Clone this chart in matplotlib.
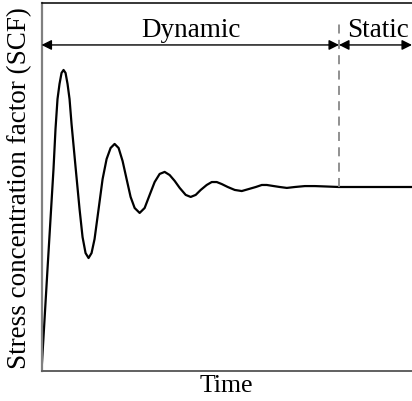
import matplotlib
matplotlib.use('Agg')
import matplotlib.pyplot as plt

# SCF response: time (arb. units) vs stress concentration factor (normalised to static value)
time = [0.000, 0.081, 0.162, 0.243, 0.324, 0.378, 0.432, 0.486, 0.541, 0.595, 0.649,
        0.703, 0.757, 0.811, 0.919, 1.027, 1.108, 1.189, 1.270, 1.351, 1.432, 1.541,
        1.649, 1.757, 1.865, 1.973, 2.081, 2.189, 2.297, 2.405, 2.514, 2.649, 2.784,
        2.919, 3.054, 3.189, 3.324, 3.459, 3.595, 3.730, 3.892, 4.027, 4.162, 4.297,
        4.459, 4.595, 4.730, 4.865, 5.027, 5.216, 5.405, 5.595, 5.784, 5.946, 6.081,
        6.270, 6.432, 6.622, 6.838, 7.108, 7.378, 7.649, 8.027, 10.000]
scf = [0.000, 0.277, 0.554, 0.826, 1.098, 1.315, 1.478, 1.560, 1.620, 1.636, 1.620,
       1.560, 1.478, 1.342, 1.109, 0.880, 0.728, 0.641, 0.614, 0.641, 0.717, 0.880,
       1.043, 1.152, 1.212, 1.234, 1.212, 1.141, 1.043, 0.946, 0.886, 0.859, 0.886,
       0.957, 1.027, 1.071, 1.082, 1.065, 1.033, 0.995, 0.957, 0.946, 0.957, 0.984,
       1.011, 1.027, 1.027, 1.016, 1.000, 0.984, 0.978, 0.989, 1.000, 1.011, 1.011,
       1.005, 1.000, 0.995, 1.000, 1.005, 1.005, 1.003, 1.000, 1.000]

t_static = 8.03          # start of static phase
t_end = 10.0
arrow_y = 1.772
phase_labels = ['Dynamic', 'Static']
phase_label_x = [4.03, 9.08]

plt.rcParams['font.family'] = ['Liberation Serif', 'DejaVu Serif']

fig = plt.figure(figsize=(4.12, 4.02), dpi=100)
ax = fig.add_axes([41.5/412, 30/402, 1 - 41.5/412, 368/402])

ax.plot(time, scf, color='black', lw=1.6, solid_joinstyle='round')
ax.plot([t_static, t_static], [1.0, 1.90], color='#888888', lw=1.3,
        ls=(0, (5, 3.5)))

arrow = dict(arrowstyle='<|-|>', color='black', lw=1.0,
             mutation_scale=15, shrinkA=0, shrinkB=0)
ax.annotate('', xy=(0, arrow_y), xytext=(t_static, arrow_y), arrowprops=arrow)
ax.annotate('', xy=(t_static, arrow_y), xytext=(t_end, arrow_y), arrowprops=arrow,
            annotation_clip=False)
for lab, x in zip(phase_labels, phase_label_x):
    ax.text(x, 1.855, lab, ha='center', va='center', fontsize=19.5)

ax.set_xlim(0, t_end)
ax.set_ylim(0, 2.0)
ax.set_xticks([]); ax.set_yticks([])
ax.spines['right'].set_visible(False)
ax.spines['left'].set_color('#808080'); ax.spines['left'].set_linewidth(1.6)
ax.spines['bottom'].set_color('#606060'); ax.spines['bottom'].set_linewidth(1.4)
ax.spines['top'].set_color('black'); ax.spines['top'].set_linewidth(1.1)
ax.set_xlabel('Time', fontsize=18.5, labelpad=2)
ax.set_ylabel('Stress concentration factor (SCF)', fontsize=19.5, labelpad=7)

plt.savefig('out.png', dpi=100)
plt.close()
